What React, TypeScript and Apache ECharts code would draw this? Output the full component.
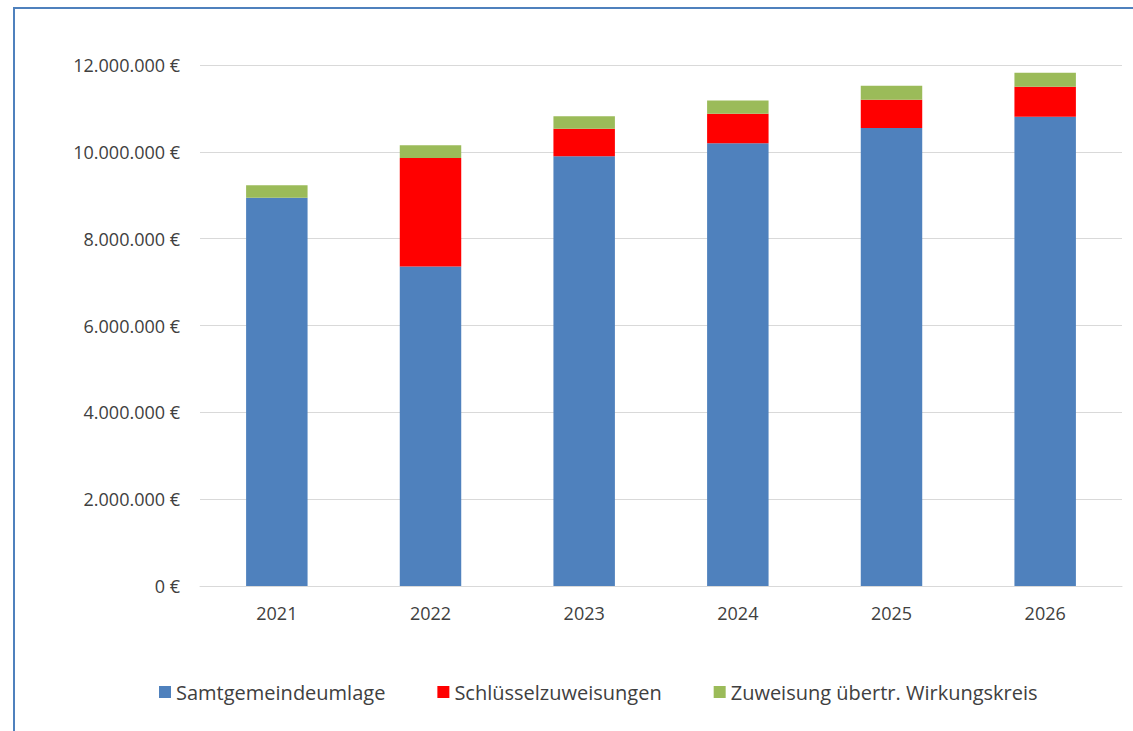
import React, { useEffect, useRef } from "react";
import * as echarts from "echarts";

const years = ["2021", "2022", "2023", "2024", "2025", "2026"];
const samtgemeindeumlage = [8940000, 7360000, 9900000, 10200000, 10550000, 10810000];
const schluesselzuweisungen = [0, 2500000, 630000, 680000, 650000, 690000];
const zuweisungWirkungskreis = [290000, 290000, 290000, 300000, 320000, 320000];

const fmt = (v: number) =>
  String(Math.round(v)).replace(/\B(?=(\d{3})+(?!\d))/g, ".") + " €";

const FONT = "Open Sans";

export default function App() {
  const ref = useRef<HTMLDivElement>(null);
  useEffect(() => {
    if (!ref.current) return;
    const chart = echarts.init(ref.current, null, { renderer: "svg" });
    chart.setOption({
      animation: false,
      backgroundColor: "#ffffff",
      textStyle: { fontFamily: FONT },
      graphic: [
        {
          type: "rect",
          shape: { x: 14, y: 8, width: 1200, height: 800 },
          style: { fill: "none", stroke: "#4F81BD", lineWidth: 2 },
          silent: true,
        },
      ],
      grid: { left: 200, right: 11, top: 65, bottom: 145 },
      legend: {
        top: 677,
        left: 154,
        itemWidth: 12,
        itemHeight: 12,
        itemGap: 52,
        icon: "rect",
        textStyle: { fontSize: 20, color: "#404040", fontFamily: FONT },
        data: ["Samtgemeindeumlage", "Schlüsselzuweisungen", "Zuweisung übertr. Wirkungskreis"],
      },
      xAxis: {
        type: "category",
        data: years,
        axisLine: { lineStyle: { color: "#d9d9d9" } },
        axisTick: { show: false },
        axisLabel: { color: "#404040", fontSize: 18, margin: 18, fontFamily: FONT },
      },
      yAxis: {
        type: "value",
        min: 0,
        max: 12000000,
        interval: 2000000,
        axisLine: { show: false },
        axisTick: { show: false },
        splitLine: { lineStyle: { color: "#d9d9d9" } },
        axisLabel: { color: "#404040", fontSize: 18, margin: 20, fontFamily: FONT, formatter: fmt },
      },
      series: [
        {
          name: "Samtgemeindeumlage",
          type: "bar",
          stack: "total",
          barWidth: "40%",
          itemStyle: { color: "#4F81BD" },
          data: samtgemeindeumlage,
        },
        {
          name: "Schlüsselzuweisungen",
          type: "bar",
          stack: "total",
          barWidth: "40%",
          itemStyle: { color: "#FF0000" },
          data: schluesselzuweisungen,
        },
        {
          name: "Zuweisung übertr. Wirkungskreis",
          type: "bar",
          stack: "total",
          barWidth: "40%",
          itemStyle: { color: "#9BBB59" },
          data: zuweisungWirkungskreis,
        },
      ],
    });
    return () => chart.dispose();
  }, []);
  return (
    <div
      ref={ref}
      style={{ position: "absolute", left: 0, top: 0, width: 1133, height: 731 }}
    />
  );
}
